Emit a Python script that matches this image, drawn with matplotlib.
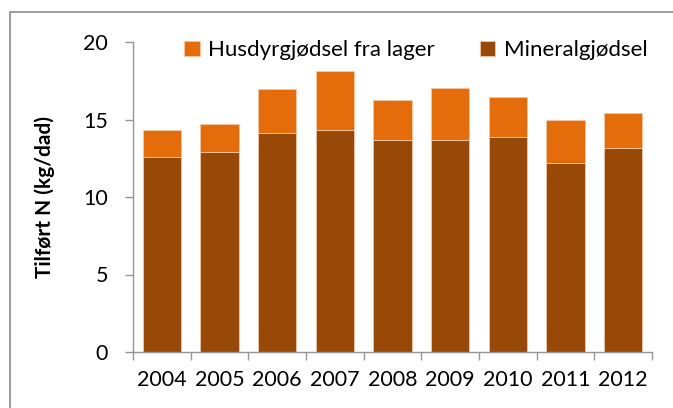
import matplotlib
matplotlib.use("Agg")
import matplotlib.pyplot as plt
from matplotlib.patches import Rectangle
import numpy as np

years = ["2004", "2005", "2006", "2007", "2008", "2009", "2010", "2011", "2012"]
mineral = [12.55, 12.9, 14.13, 14.35, 13.7, 13.65, 13.85, 12.2, 13.15]
husdyr = [1.77, 1.83, 2.82, 3.8, 2.55, 3.4, 2.6, 2.75, 2.3]

plt.rcParams["font.family"] = ["Lato", "DejaVu Sans"]

W, H = 673, 408
fig = plt.figure(figsize=(W / 100, H / 100), dpi=100)
ax = fig.add_axes([133 / W, 1 - 352 / H, (652 - 133) / W, (352 - 42) / H])

x = np.arange(len(years))
c_min = "#984807"
c_hus = "#E46C0A"
ax.bar(x, mineral, width=0.66, color=c_min, edgecolor="#f0c8a8", linewidth=0.6,
       label="Mineralgjødsel", zorder=2)
ax.bar(x, husdyr, bottom=mineral, width=0.66, color=c_hus, edgecolor="#f5c9a5",
       linewidth=0.6, label="Husdyrgjødsel fra lager", zorder=2)

ax.set_xlim(-0.5, len(years) - 0.5)
ax.set_ylim(0, 20)
ax.set_yticks([0, 5, 10, 15, 20])
ax.set_xticks(x)
ax.set_xticklabels(years)
ax.set_xticks(np.arange(-0.5, len(years)), minor=True)
ax.tick_params(axis="x", which="major", length=0, labelsize=15.5, pad=13)
ax.tick_params(axis="x", which="minor", length=6, color="#969696", width=1)
ax.tick_params(axis="y", length=6, color="#969696", width=1, labelsize=15.5, pad=12)

for s in ["top", "right"]:
    ax.spines[s].set_visible(False)
for s in ["left", "bottom"]:
    ax.spines[s].set_color("#969696")
    ax.spines[s].set_linewidth(1)

ax.set_ylabel("Tilført N (kg/dad)", fontsize=15, fontweight="bold", labelpad=20)

handles, labels = ax.get_legend_handles_labels()
ax.legend(handles[::-1], labels[::-1], ncol=2, frameon=False, fontsize=16,
          loc="upper center", bbox_to_anchor=(0.545, 1.07), handlelength=0.7,
          handleheight=0.7, handletextpad=0.4, columnspacing=2.0)

fig.patches.append(Rectangle((10 / W, -0.1), 1.0, 1 - 12 / H + 0.1,
                             transform=fig.transFigure, fill=False,
                             edgecolor="#8c8c8c", linewidth=1.2))

fig.savefig("out.png", dpi=100)
